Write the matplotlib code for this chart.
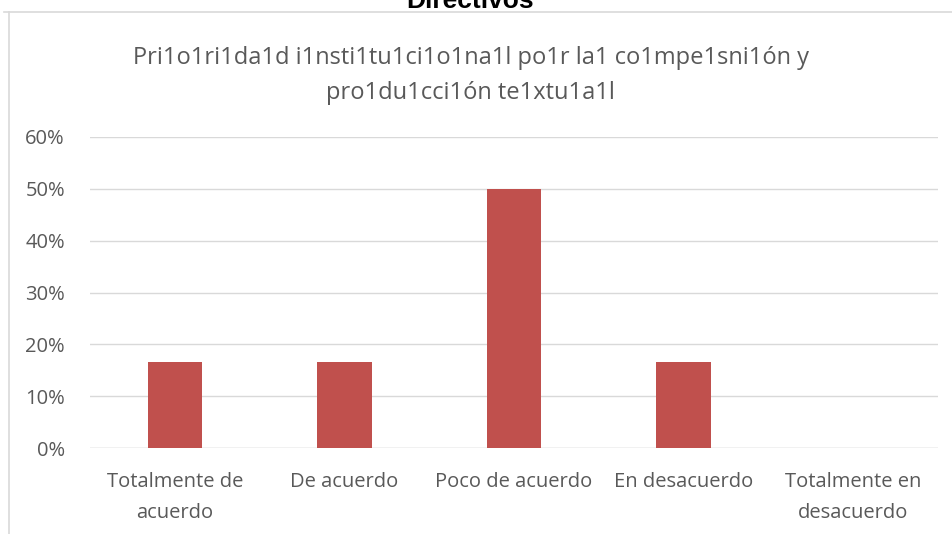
import matplotlib
matplotlib.use("Agg")
import matplotlib.pyplot as plt
from matplotlib.lines import Line2D
from matplotlib.ticker import FuncFormatter

categories = ["Totalmente de\nacuerdo", "De acuerdo", "Poco de acuerdo", "En desacuerdo", "Totalmente en\ndesacuerdo"]
values = [1/6, 1/6, 0.5, 1/6, 0.0]
yticks = [0, 0.1, 0.2, 0.3, 0.4, 0.5, 0.6]

font = ['Open Sans', 'DejaVu Sans']
plt.rcParams['font.family'] = font

fig = plt.figure(figsize=(9.53, 5.34), dpi=100)
ax = fig.add_axes([90/953, 1-448/534, (938-90)/953, (448-137)/534])

x = list(range(len(categories)))
ax.bar(x, values, width=0.32, color='#C0504D', zorder=3)
ax.set_xlim(-0.5, len(categories)-0.5)
ax.set_ylim(0, 0.6)
ax.set_yticks(yticks)
ax.yaxis.set_major_formatter(FuncFormatter(lambda v, p: f"{v*100:.0f}%"))
ax.set_xticks(x)
ax.set_xticklabels(categories, fontsize=14.5, color='#595959', linespacing=1.75)
ax.tick_params(axis='y', labelsize=14.5, colors='#595959', length=0, pad=18)
ax.tick_params(axis='x', length=0, pad=17)
ax.grid(axis='y', color='#D9D9D9', linewidth=1, zorder=0)
for s in ax.spines.values():
    s.set_visible(False)
ax.axhline(0, color='#D9D9D9', linewidth=1, zorder=2)

fig.text(0.494, 1-64/534, "Pri1o1ri1da1d i1nsti1tu1ci1o1na1l po1r la1 co1mpe1sni1ón y",
         ha='center', va='baseline', fontsize=17, color='#595959')
fig.text(0.494, 1-99/534, "pro1du1cci1ón te1xtu1a1l",
         ha='center', va='baseline', fontsize=17, color='#595959')
fig.text(0.493, 1-8/534, "Directivos", ha='center', va='baseline', fontsize=19,
         fontweight='bold', color='black', family=['Liberation Sans', 'DejaVu Sans'])

fig.add_artist(Line2D([9/953, 9/953], [0, 1-12/534], transform=fig.transFigure, color='#D9D9D9', linewidth=1.2))
fig.add_artist(Line2D([4/953, 1], [1-12/534, 1-12/534], transform=fig.transFigure, color='#D9D9D9', linewidth=1.2))

fig.savefig("out.png", dpi=100)
